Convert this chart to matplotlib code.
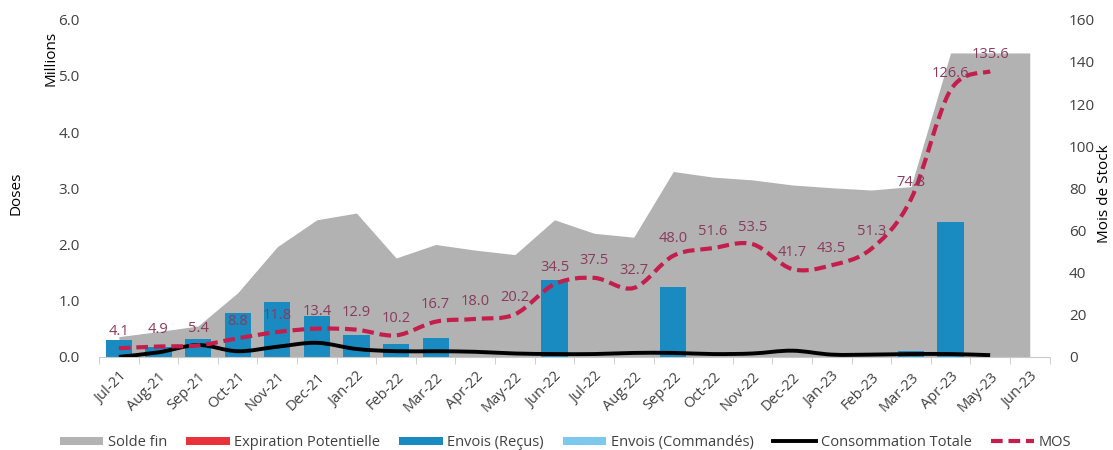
import numpy as np
import matplotlib
matplotlib.use("Agg")
from matplotlib import pyplot as plt
from matplotlib.path import Path
from matplotlib.patches import PathPatch, Patch
from matplotlib.lines import Line2D

plt.rcParams['font.family'] = ['Open Sans', 'DejaVu Sans']

months = ["Jul-21", "Aug-21", "Sep-21", "Oct-21", "Nov-21", "Dec-21", "Jan-22", "Feb-22",
          "Mar-22", "Apr-22", "May-22", "Jun-22", "Jul-22", "Aug-22", "Sep-22", "Oct-22",
          "Nov-22", "Dec-22", "Jan-23", "Feb-23", "Mar-23", "Apr-23", "May-23", "Jun-23"]

# millions of doses
solde_fin = [0.36, 0.45, 0.55, 1.14, 1.96, 2.44, 2.56, 1.76, 2.0, 1.9, 1.82, 2.44,
             2.2, 2.13, 3.3, 3.2, 3.15, 3.06, 3.01, 2.97, 3.03, 5.41, 5.41, 5.41]
envois_recus = [0.30, 0.18, 0.32, 0.78, 0.98, 0.73, 0.39, 0.23, 0.33, 0, 0, 1.37,
                0, 0, 1.25, 0, 0, 0, 0, 0, 0.11, 2.4, 0, 0]
consommation = [0.0, 0.08, 0.21, 0.1, 0.18, 0.25, 0.14, 0.1, 0.1, 0.09, 0.06, 0.05,
                0.05, 0.07, 0.07, 0.05, 0.06, 0.11, 0.04, 0.04, 0.05, 0.05, 0.03]
# months of stock
mos = [4.1, 4.9, 5.4, 8.8, 11.8, 13.4, 12.9, 10.2, 16.7, 18.0, 20.2, 34.5,
       37.5, 32.7, 48.0, 51.6, 53.5, 41.7, 43.5, 51.3, 74.8, 126.6, 135.6]

GRAY = "#B2B2B2"
BLUE = "#1A8BC0"
LIGHT_BLUE = "#7DC9EE"
RED = "#E8323C"
MOS_COL = "#C41E4C"
LABEL_COL = "#8A3A5C"
TXT = "#404040"
MOS_DASH = (0, (2.8, 1.4))


def smooth_path(xs, ys):
  # excel-like smoothed line (catmull-rom as bezier)
  pts = np.column_stack([xs, ys]).astype(float)
  verts = [pts[0]]
  codes = [Path.MOVETO]
  n = len(pts)
  for i in range(n - 1):
    p0 = pts[i - 1] if i > 0 else pts[i]
    p1 = pts[i]
    p2 = pts[i + 1]
    p3 = pts[i + 2] if i + 2 < n else pts[i + 1]
    c1 = p1 + (p2 - p0) / 6.0
    c2 = p2 - (p3 - p1) / 6.0
    verts += [c1, c2, p2]
    codes += [Path.CURVE4] * 3
  return Path(verts, codes)


fig = plt.figure(figsize=(11.13, 4.5), dpi=100)
ax = fig.add_axes([0.089, 0.207, 0.854, 0.749])
ax2 = ax.twinx()

x = np.arange(len(months))
ax.fill_between(x, solde_fin, 0, color=GRAY, lw=0, zorder=1)
ax.bar(x, envois_recus, width=0.66, color=BLUE, zorder=2)

xc = np.arange(len(consommation))
ax.add_patch(PathPatch(smooth_path(xc, consommation), fill=False, color="black",
                       lw=2.8, capstyle='butt', zorder=3))

xm = np.arange(len(mos))
ax2.add_patch(PathPatch(smooth_path(xm, mos), fill=False, edgecolor=MOS_COL,
                        lw=3, linestyle=MOS_DASH, zorder=4))
for xi, v in zip(xm, mos):
  ax2.text(xi, v + 4.5, f"{v:.1f}", ha='center', va='bottom', fontsize=10.5,
           color=LABEL_COL, zorder=5)

ax.set_xlim(-0.5, len(months) - 0.5)
ax.set_ylim(0, 6)
ax2.set_ylim(0, 160)
ax.set_zorder(1)
ax2.set_zorder(2)
ax2.patch.set_visible(False)

ax.set_yticks(np.arange(0, 6.01, 1.0))
ax.set_yticklabels([f"{v:.1f}" for v in np.arange(0, 6.01, 1.0)])
ax2.set_yticks(np.arange(0, 161, 20))

ax.set_xticks(x)
ax.set_xticklabels(months, rotation=45, ha='right', rotation_mode='anchor')
ax.set_xticks(np.arange(-0.5, len(months)), minor=True)
ax.tick_params(axis='x', which='major', length=0, pad=9, labelsize=10.5, labelcolor=TXT)
ax.tick_params(axis='x', which='minor', length=5, color="#C8C8C8")
ax.tick_params(axis='y', length=0, labelsize=11, labelcolor=TXT, pad=14)
ax2.tick_params(axis='y', length=0, labelsize=11, labelcolor=TXT, pad=14)

for a in (ax, ax2):
  for s in ("top", "left", "right", "bottom"):
    a.spines[s].set_visible(False)
ax.spines["bottom"].set_visible(True)
ax.spines["bottom"].set_color("#C8C8C8")

fig.text(0.014, 0.57, "Doses", rotation=90, ha='center', va='center', fontsize=11, color="black")
fig.text(0.046, 0.87, "Millions", rotation=90, ha='center', va='center', fontsize=11, color="black")
fig.text(0.992, 0.57, "Mois de Stock", rotation=90, ha='center', va='center', fontsize=11, color="black")

handles = [
  Patch(facecolor=GRAY, edgecolor='none'),
  Patch(facecolor=RED, edgecolor='none'),
  Patch(facecolor=BLUE, edgecolor='none'),
  Patch(facecolor=LIGHT_BLUE, edgecolor='none'),
  Line2D([], [], color="black", lw=2.8),
  Line2D([], [], color=MOS_COL, lw=3, linestyle=MOS_DASH),
]
labels = ["Solde fin", "Expiration Potentielle", "Envois (Reçus)", "Envois (Commandés)",
          "Consommation Totale", "MOS"]
fig.legend(handles, labels, loc='center', bbox_to_anchor=(0.508, 0.017), ncol=6,
           frameon=False, fontsize=10.5, handlelength=3.0, handleheight=0.5,
           handletextpad=0.3, columnspacing=1.3, labelcolor=TXT)

fig.savefig("out.png", dpi=100)
